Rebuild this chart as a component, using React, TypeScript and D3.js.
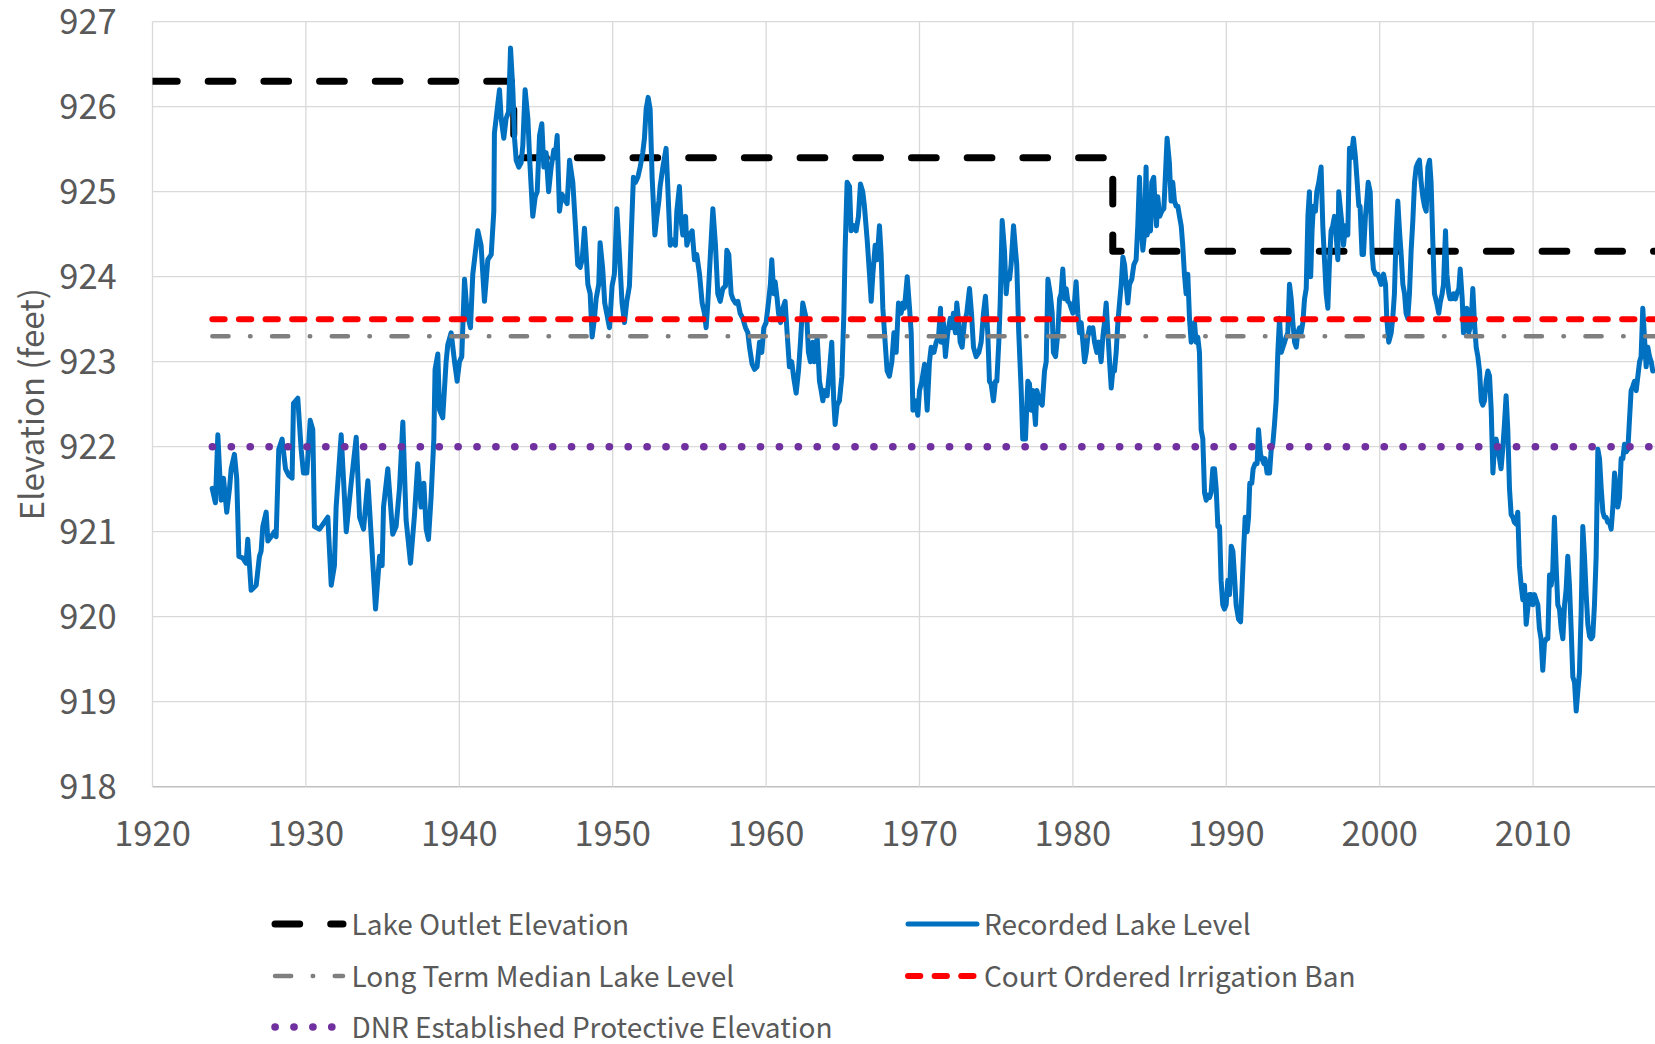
import React from 'react';
import * as d3 from 'd3';

// ---------- data ----------
const xTicks = [1920, 1930, 1940, 1950, 1960, 1970, 1980, 1990, 2000, 2010];
const yTicks = [918, 919, 920, 921, 922, 923, 924, 925, 926, 927];

const outletElevation: [number, number][] = [
  [1920, 926.3], [1943.55, 926.3], [1943.55, 925.4], [1982.6, 925.4], [1982.6, 924.3], [2018, 924.3],
];
const medianLevel = 923.3;
const irrigationBanLevel = 923.5;
const dnrProtectiveLevel = 922.0;
const referenceStart = 1923.9;
const referenceEnd = 2018;

const recordedLevel: [number, number][] = [
  [1923.89,921.51],[1924.10,921.34],[1924.26,922.14],[1924.47,921.37],[1924.63,921.63],[1924.84,921.23],[1925.02,921.51],[1925.13,921.74],[1925.34,921.91],[1925.49,921.63],[1925.63,920.71],[1925.89,920.69],[1926.10,920.63],[1926.21,920.91],[1926.43,920.31],[1926.76,920.37],[1926.97,920.71],[1927.08,920.77],[1927.19,921.06],[1927.41,921.23],[1927.52,920.89],[1927.73,920.94],[1927.95,921.00],[1928.06,920.94],[1928.23,921.97],[1928.45,922.09],[1928.67,921.74],[1928.89,921.66],[1929.10,921.63],[1929.19,922.51],[1929.47,922.57],[1929.69,921.97],[1929.84,921.69],[1930.06,921.69],[1930.28,922.31],[1930.45,922.20],[1930.56,921.06],[1930.89,921.03],[1931.43,921.17],[1931.65,920.37],[1931.86,920.60],[1931.97,921.29],[1932.30,922.14],[1932.63,921.00],[1932.95,921.57],[1933.28,922.11],[1933.50,921.17],[1933.76,921.03],[1934.04,921.60],[1934.26,920.94],[1934.54,920.09],[1934.80,920.71],[1934.97,920.60],[1935.06,921.29],[1935.34,921.74],
  [1935.66,920.97],[1935.88,921.06],[1936.10,921.51],[1936.32,922.29],[1936.53,921.14],[1936.82,920.63],[1937.08,921.20],[1937.29,921.80],[1937.51,921.29],[1937.69,921.57],[1937.84,921.03],[1937.99,920.91],[1938.16,921.40],[1938.34,922.09],[1938.42,922.91],[1938.60,923.09],[1938.71,922.43],[1938.92,922.34],[1939.14,923.00],[1939.25,923.20],[1939.47,923.34],[1939.69,923.00],[1939.86,922.77],[1940.01,923.00],[1940.16,923.06],[1940.34,923.97],[1940.51,923.57],[1940.73,923.40],[1940.88,924.03],[1941.21,924.54],[1941.42,924.37],[1941.64,923.71],[1941.86,924.20],[1942.08,924.26],[1942.25,924.77],[1942.29,925.69],[1942.47,925.97],[1942.62,926.20],[1942.73,925.86],[1942.90,925.63],[1943.05,925.86],[1943.21,925.94],[1943.34,926.69],[1943.49,926.20],[1943.60,925.63],[1943.71,925.37],[1943.88,925.29],[1944.03,925.34],[1944.14,925.54],[1944.29,926.20],[1944.47,925.86],[1944.60,925.34],[1944.79,924.71],[1944.95,924.94],[1945.08,925.00],[1945.23,925.66],[1945.38,925.80],[1945.51,925.29],[1945.66,925.46],[1945.82,925.00],[1945.99,925.29],[1946.16,925.49],[1946.25,925.40],[1946.38,925.66],[1946.53,924.77],[1946.69,924.97],[1946.86,924.91],[1947.03,924.86],[1947.19,925.37],
  [1947.40,925.11],[1947.57,924.60],[1947.72,924.14],[1947.88,924.11],[1948.01,924.20],[1948.16,924.57],[1948.27,924.26],[1948.38,923.91],[1948.53,923.80],[1948.66,923.29],[1948.81,923.51],[1948.92,923.74],[1949.09,923.91],[1949.18,924.40],[1949.35,924.09],[1949.48,923.69],[1949.61,923.57],[1949.79,923.40],[1949.96,923.89],[1950.11,924.03],[1950.27,924.80],[1950.44,924.26],[1950.61,923.69],[1950.77,923.46],[1950.92,923.71],[1951.09,923.89],[1951.22,924.54],[1951.35,925.17],[1951.48,925.11],[1951.64,925.17],[1951.79,925.29],[1951.96,925.46],[1952.07,925.63],[1952.18,925.97],[1952.31,926.11],[1952.44,925.97],[1952.57,925.17],[1952.75,924.49],[1952.88,924.71],[1953.01,924.89],[1953.09,925.06],[1953.27,925.29],[1953.48,925.51],[1953.59,925.06],[1953.75,924.37],[1953.92,924.43],[1954.09,924.37],[1954.18,924.77],[1954.35,925.06],[1954.46,924.66],[1954.57,924.49],[1954.75,924.71],[1954.83,924.37],[1955.01,924.49],[1955.18,924.54],[1955.33,924.20],[1955.48,924.26],[1955.66,924.03],[1955.83,923.69],[1955.98,923.57],[1956.09,923.40],[1956.20,923.69],[1956.35,924.20],[1956.53,924.80],[1956.70,924.37],[1956.85,923.80],[1957.01,923.71],[1957.18,923.86],[1957.35,923.89],[1957.44,924.31],[1957.57,924.26],[1957.72,923.80],[1957.83,923.74],[1958.01,923.69],[1958.16,923.71],[1958.31,923.57],[1958.48,923.51],[1958.66,923.40],[1958.81,923.34],[1958.92,923.17],[1959.09,922.97],[1959.25,922.91],
  [1959.41,922.94],[1959.57,923.23],[1959.72,923.11],[1959.85,923.40],[1960.00,923.46],[1960.15,923.69],[1960.28,923.91],[1960.37,924.20],[1960.50,923.80],[1960.59,923.94],[1960.72,923.74],[1960.81,923.57],[1960.94,923.46],[1961.09,923.63],[1961.24,923.71],[1961.37,923.34],[1961.52,922.94],[1961.67,923.00],[1961.81,922.80],[1961.96,922.63],[1962.11,922.89],[1962.24,923.23],[1962.39,923.69],[1962.54,923.57],[1962.67,923.46],[1962.76,923.11],[1962.89,923.00],[1963.04,923.23],[1963.15,923.00],[1963.33,923.29],[1963.48,922.77],[1963.59,922.66],[1963.70,922.54],[1963.80,922.66],[1963.98,922.60],[1964.13,922.89],[1964.28,923.23],[1964.41,922.54],[1964.50,922.26],[1964.63,922.49],[1964.78,922.54],[1964.94,922.83],[1965.07,923.57],[1965.15,924.31],[1965.28,925.11],[1965.44,925.06],[1965.54,924.54],[1965.72,924.60],[1965.87,924.54],[1966.02,924.71],[1966.15,925.09],[1966.30,925.00],[1966.41,924.83],[1966.59,924.43],[1966.74,924.03],[1966.85,923.71],[1966.96,924.03],[1967.11,924.37],[1967.24,924.20],[1967.39,924.60],[1967.50,924.26],[1967.61,923.63],[1967.76,923.23],[1967.89,922.89],[1968.04,922.83],[1968.20,923.00],[1968.33,923.34],[1968.48,923.11],[1968.63,923.69],[1968.80,923.57],[1968.91,923.69],[1969.02,923.63],[1969.20,924.00],[1969.35,923.63],[1969.46,923.34],[1969.57,922.43],[1969.72,922.54],[1969.89,922.37],[1970.00,922.66],[1970.15,922.77],[1970.33,922.97],[1970.50,922.43],[1970.65,923.00],[1970.76,923.17],[1970.94,923.11],[1971.09,923.23],[1971.24,923.29],[1971.37,923.63],
  [1971.41,923.23],[1971.56,923.46],[1971.69,923.06],[1971.84,923.34],[1972.00,923.51],[1972.13,923.40],[1972.21,923.57],[1972.34,923.34],[1972.43,923.69],[1972.56,923.46],[1972.65,923.23],[1972.78,923.17],[1972.93,923.46],[1973.08,923.57],[1973.26,923.86],[1973.39,923.57],[1973.52,923.17],[1973.69,923.06],[1973.87,923.11],[1974.02,923.23],[1974.17,923.57],[1974.30,923.77],[1974.45,923.34],[1974.56,922.77],[1974.67,922.74],[1974.82,922.54],[1974.95,922.77],[1975.04,922.77],[1975.17,923.23],[1975.26,923.69],[1975.39,924.66],[1975.54,924.31],[1975.65,923.80],[1975.76,924.03],[1975.87,923.97],[1975.97,924.14],[1976.13,924.60],[1976.26,924.31],[1976.34,924.14],[1976.47,923.34],[1976.63,922.66],[1976.73,922.09],[1976.91,922.09],[1977.06,922.77],[1977.17,922.74],[1977.28,922.43],[1977.39,922.66],[1977.56,922.26],[1977.65,922.66],[1977.82,922.54],[1978.00,922.49],[1978.15,922.89],[1978.26,923.00],[1978.37,923.97],[1978.52,923.80],[1978.65,923.57],[1978.73,923.11],[1978.87,923.06],[1979.02,923.34],[1979.13,923.74],[1979.23,923.80],[1979.34,924.09],[1979.45,923.74],[1979.56,923.86],[1979.67,923.71],[1979.78,923.69],[1979.89,923.63],[1980.00,923.57],[1980.10,923.69],[1980.21,923.94],[1980.32,923.57],[1980.43,923.34],[1980.54,923.46],[1980.65,923.23],[1980.76,923.00],[1980.87,923.11],[1980.97,923.29],[1981.08,923.40],[1981.19,923.34],[1981.30,923.40],[1981.41,923.23],[1981.56,923.11],[1981.69,923.23],[1981.84,923.00],[1981.95,923.29],[1982.06,923.46],[1982.17,923.69],[1982.28,923.34],[1982.39,923.00],[1982.50,922.69],[1982.60,922.89],[1982.71,922.89],[1982.82,923.11],[1982.93,923.46],[1983.04,923.69],[1983.15,923.91],[1983.26,924.23],[1983.37,924.14],[1983.47,923.91],
  [1983.58,923.69],[1983.69,923.91],[1983.84,923.97],[1983.97,924.14],[1984.12,924.20],[1984.23,924.60],[1984.34,925.17],[1984.45,924.60],[1984.56,924.31],[1984.66,924.49],[1984.77,925.29],[1984.84,924.49],[1984.93,924.60],[1985.06,924.54],[1985.14,925.11],[1985.27,925.17],[1985.36,924.83],[1985.45,924.60],[1985.53,924.94],[1985.66,924.71],[1985.79,924.77],[1985.93,924.80],[1986.01,925.11],[1986.14,925.63],[1986.29,925.34],[1986.40,924.89],[1986.51,925.11],[1986.62,924.89],[1986.73,924.83],[1986.84,924.83],[1986.95,924.71],[1987.06,924.60],[1987.16,924.37],[1987.27,924.03],[1987.38,923.80],[1987.49,924.03],[1987.60,923.51],[1987.71,923.23],[1987.82,923.34],[1987.93,923.46],[1988.03,923.23],[1988.14,923.29],[1988.25,923.11],[1988.36,922.20],[1988.47,922.09],[1988.58,921.46],[1988.69,921.37],[1988.80,921.43],[1988.90,921.40],[1989.01,921.46],[1989.12,921.74],[1989.23,921.74],[1989.34,921.51],[1989.45,921.06],[1989.56,921.06],[1989.66,920.43],[1989.77,920.14],[1989.88,920.09],[1989.99,920.14],[1990.10,920.43],[1990.21,920.26],[1990.32,920.83],[1990.43,920.77],[1990.53,920.49],[1990.64,920.14],[1990.80,919.97],[1990.93,919.94],[1991.01,920.26],[1991.14,920.83],[1991.23,921.17],[1991.36,921.00],[1991.45,921.17],[1991.53,921.57],[1991.66,921.57],[1991.75,921.74],[1991.88,921.80],[1992.01,921.80],[1992.10,922.20],[1992.23,921.91],[1992.32,921.86],[1992.45,921.80],[1992.53,921.86],[1992.66,921.69],[1992.82,921.69],[1992.93,921.97],[1993.03,922.03],[1993.14,922.26],[1993.25,922.54],[1993.36,923.11],[1993.47,923.51],[1993.58,923.11],[1993.69,923.17],[1993.80,923.23],[1993.90,923.29],[1994.01,923.34],[1994.12,923.91],[1994.23,923.74],[1994.34,923.46],[1994.45,923.23],[1994.56,923.17],[1994.66,923.34],[1994.77,923.40],[1994.88,923.34],[1994.99,923.46],[1995.10,923.74],[1995.21,923.86],[1995.32,924.71],[1995.42,925.00],
  [1995.50,924.00],[1995.59,924.54],[1995.68,924.83],[1995.81,924.77],[1995.90,925.00],[1996.03,925.11],[1996.18,925.29],[1996.29,924.60],[1996.40,924.20],[1996.51,923.80],[1996.62,923.63],[1996.72,924.14],[1996.83,924.54],[1996.94,924.60],[1997.05,924.71],[1997.16,924.49],[1997.27,924.20],[1997.33,925.00],[1997.42,924.83],[1997.55,924.60],[1997.64,924.37],[1997.77,924.60],[1997.92,924.49],[1998.03,925.51],[1998.14,925.40],[1998.29,925.63],[1998.42,925.40],[1998.51,925.17],[1998.64,924.83],[1998.72,924.83],[1998.85,924.26],[1998.94,924.26],[1999.07,924.71],[1999.16,924.89],[1999.25,925.11],[1999.38,925.00],[1999.51,924.26],[1999.59,924.09],[1999.72,924.03],[1999.88,924.03],[1999.99,923.97],[2000.09,923.91],[2000.25,924.03],[2000.38,923.91],[2000.46,923.51],[2000.59,923.23],[2000.75,923.34],[2000.85,923.51],[2000.96,923.80],[2001.07,924.49],[2001.18,924.89],[2001.29,924.54],[2001.40,924.26],[2001.51,923.91],[2001.62,923.80],[2001.72,923.57],[2001.83,923.51],[2001.94,923.80],[2002.05,924.31],[2002.16,924.66],[2002.27,925.11],[2002.38,925.29],[2002.49,925.34],[2002.59,925.37],[2002.70,925.11],[2002.81,924.94],[2002.92,924.83],[2003.03,924.77],[2003.14,925.29],[2003.25,925.37],[2003.35,925.11],[2003.46,924.43],[2003.57,923.80],[2003.72,923.69],[2003.85,923.57],[2003.94,923.69],[2004.07,923.80],[2004.16,923.91],[2004.29,924.54],[2004.38,924.03],[2004.51,923.80],[2004.59,923.74],[2004.72,923.74],[2004.81,923.80],[2004.94,923.74],[2005.03,923.80],[2005.16,923.86],[2005.25,924.09],[2005.38,923.74],[2005.46,923.34],[2005.59,923.40],[2005.68,923.63],[2005.81,923.34],[2005.96,923.46],[2006.07,923.86],[2006.18,923.46],[2006.29,923.17],[2006.40,923.06],[2006.51,922.89],[2006.62,922.54],[2006.72,922.49],[2006.83,922.54],[2006.94,922.77],[2007.05,922.89],[2007.16,922.83],[2007.27,922.43],[2007.38,921.69],[2007.49,922.03],[2007.59,922.09],
  [2007.70,921.97],[2007.81,921.86],[2007.91,921.74],[2008.02,921.97],[2008.13,922.26],[2008.24,922.60],[2008.35,922.20],[2008.46,921.51],[2008.57,921.20],[2008.68,921.17],[2008.78,921.11],[2008.89,921.09],[2009.00,921.23],[2009.11,920.60],[2009.22,920.37],[2009.33,920.20],[2009.44,920.37],[2009.55,919.91],[2009.65,920.09],[2009.76,920.26],[2009.87,920.26],[2009.98,920.14],[2010.09,920.26],[2010.20,920.20],[2010.31,920.14],[2010.41,919.86],[2010.52,919.74],[2010.63,919.37],[2010.74,919.69],[2010.85,919.74],[2010.96,919.74],[2011.07,920.49],[2011.18,920.37],[2011.28,920.54],[2011.39,921.17],[2011.50,920.60],[2011.61,920.14],[2011.72,920.09],[2011.83,919.86],[2011.94,919.74],[2012.05,920.14],[2012.15,920.31],[2012.26,920.71],[2012.37,920.37],[2012.48,919.86],[2012.59,919.29],[2012.70,919.23],[2012.81,918.89],[2012.91,919.11],[2013.02,919.34],[2013.13,920.03],[2013.24,921.06],[2013.35,920.71],[2013.46,920.26],[2013.57,919.91],[2013.68,919.77],[2013.78,919.74],[2013.89,919.77],[2014.00,920.14],[2014.11,920.71],[2014.22,921.97],[2014.33,921.86],[2014.44,921.51],[2014.55,921.23],[2014.65,921.17],[2014.76,921.17],[2014.87,921.11],[2014.98,921.11],[2015.09,921.03],[2015.20,921.29],[2015.31,921.69],[2015.41,921.51],[2015.52,921.29],[2015.63,921.40],[2015.74,921.86],[2015.85,921.86],[2015.96,922.03],[2016.07,921.94],[2016.18,921.97],[2016.28,922.31],[2016.39,922.66],[2016.50,922.71],[2016.61,922.77],[2016.72,922.66],[2016.83,922.83],[2016.94,923.00],[2017.04,923.06],[2017.15,923.63],[2017.26,923.29],[2017.37,922.94],[2017.48,923.17],[2017.59,923.06],[2017.70,923.00],[2017.80,922.89],
];

const legendLabels = [
  'Lake Outlet Elevation',
  'Recorded Lake Level',
  'Long Term Median Lake Level',
  'Court Ordered Irrigation Ban',
  'DNR Established Protective Elevation',
];

// ---------- styles ----------
const W = 1655;
const H = 1044;
const FONT = "'Noto Sans CJK SC', 'Noto Sans', sans-serif";
const TEXT = '#595959';

type Style = { stroke: string; width: number; dash?: string };
const styles: Style[] = [
  { stroke: '#000000', width: 7, dash: '24.7 31' },
  { stroke: '#0070C0', width: 5 },
  { stroke: '#7F7F7F', width: 4.5, dash: '16.2 21.5 0.5 21.5' },
  { stroke: '#FF0000', width: 6, dash: '12.3 14.3' },
  { stroke: '#7030A0', width: 7.5, dash: '0.2 18.7' },
];

const legendPos = [
  { row: 0, col: 0 }, { row: 0, col: 1 }, { row: 1, col: 0 }, { row: 1, col: 1 }, { row: 2, col: 0 },
];
const legendRowY = [924, 976, 1027];
const legendColX = [
  { x1: 275, x2: 343, tx: 351.5 },
  { x1: 908, x2: 977, tx: 984 },
];

export default function App() {
  const x = d3.scaleLinear().domain([1920, 2020]).range([152.5, 1686.5]);
  const y = d3.scaleLinear().domain([918, 927]).range([786.7, 21.7]);
  const line = d3.line<[number, number]>().x((d) => x(d[0])).y((d) => y(d[1]));

  const flat = (v: number): [number, number][] => [[referenceStart, v], [referenceEnd, v]];
  const seriesPaths = [
    line(outletElevation),
    line(recordedLevel),
    line(flat(medianLevel)),
    line(flat(irrigationBanLevel)),
    line(flat(dnrProtectiveLevel)),
  ];

  const strokeProps = (s: Style) => ({
    stroke: s.stroke,
    strokeWidth: s.width,
    strokeDasharray: s.dash,
    strokeLinecap: 'round' as any,
    strokeLinejoin: 'round' as any,
    fill: 'none',
  });

  return (
    <svg
      width={W}
      height={H}
      viewBox={`0 0 ${W} ${H}`}
      style={{ position: 'absolute', left: 0, top: 0, background: '#fff' }}
    >
      <defs>
        <clipPath id="plotClip">
          <rect x={x(1920)} y={0} width={W - x(1920)} height={y(918) + 4} />
        </clipPath>
      </defs>
      <rect x={0} y={0} width={W} height={H} fill="#fff" />

      {/* horizontal gridlines */}
      {yTicks.map((t) => (
        <line
          key={'h' + t}
          x1={x(1920)}
          x2={W}
          y1={y(t)}
          y2={y(t)}
          stroke={t === 918 ? '#BFBFBF' : '#D9D9D9'}
          strokeWidth={t === 918 ? 1.6 : 1.3}
        />
      ))}
      {/* vertical gridlines */}
      {xTicks.map((t) => (
        <line
          key={'v' + t}
          x1={x(t)}
          x2={x(t)}
          y1={y(927)}
          y2={y(918)}
          stroke="#D9D9D9"
          strokeWidth={1.3}
        />
      ))}

      {/* series */}
      <g clipPath="url(#plotClip)">
        {seriesPaths.map((d, i) => (
          <path key={'s' + i} d={d || ''} {...strokeProps(styles[i])} />
        ))}
      </g>

      {/* y tick labels */}
      {yTicks.map((t) => (
        <text
          key={'yl' + t}
          x={116.7}
          y={y(t) - 2.5}
          textAnchor="end"
          dominantBaseline="central"
          fontFamily={FONT}
          fontSize={34.5}
          fill={TEXT}
        >
          {t}
        </text>
      ))}
      {/* x tick labels */}
      {xTicks.map((t) => (
        <text
          key={'xl' + t}
          x={x(t)}
          y={846}
          textAnchor="middle"
          fontFamily={FONT}
          fontSize={34.5}
          fill={TEXT}
        >
          {t}
        </text>
      ))}
      {/* axis title */}
      <text
        transform={`translate(44, ${(y(918) + y(927)) / 2}) rotate(-90)`}
        textAnchor="middle"
        fontFamily={FONT}
        fontSize={33}
        fill={TEXT}
      >
        Elevation (feet)
      </text>

      {/* legend */}
      {legendLabels.map((label, i) => {
        const p = legendPos[i];
        const c = legendColX[p.col];
        const ly = legendRowY[p.row];
        return (
          <g key={'lg' + i}>
            <line x1={c.x1} x2={c.x2} y1={ly} y2={ly} {...strokeProps(styles[i])} />
            <text
              x={c.tx}
              y={ly - 1}
              dominantBaseline="central"
              fontFamily={FONT}
              fontSize={28}
              fill={TEXT}
            >
              {label}
            </text>
          </g>
        );
      })}
    </svg>
  );
}
